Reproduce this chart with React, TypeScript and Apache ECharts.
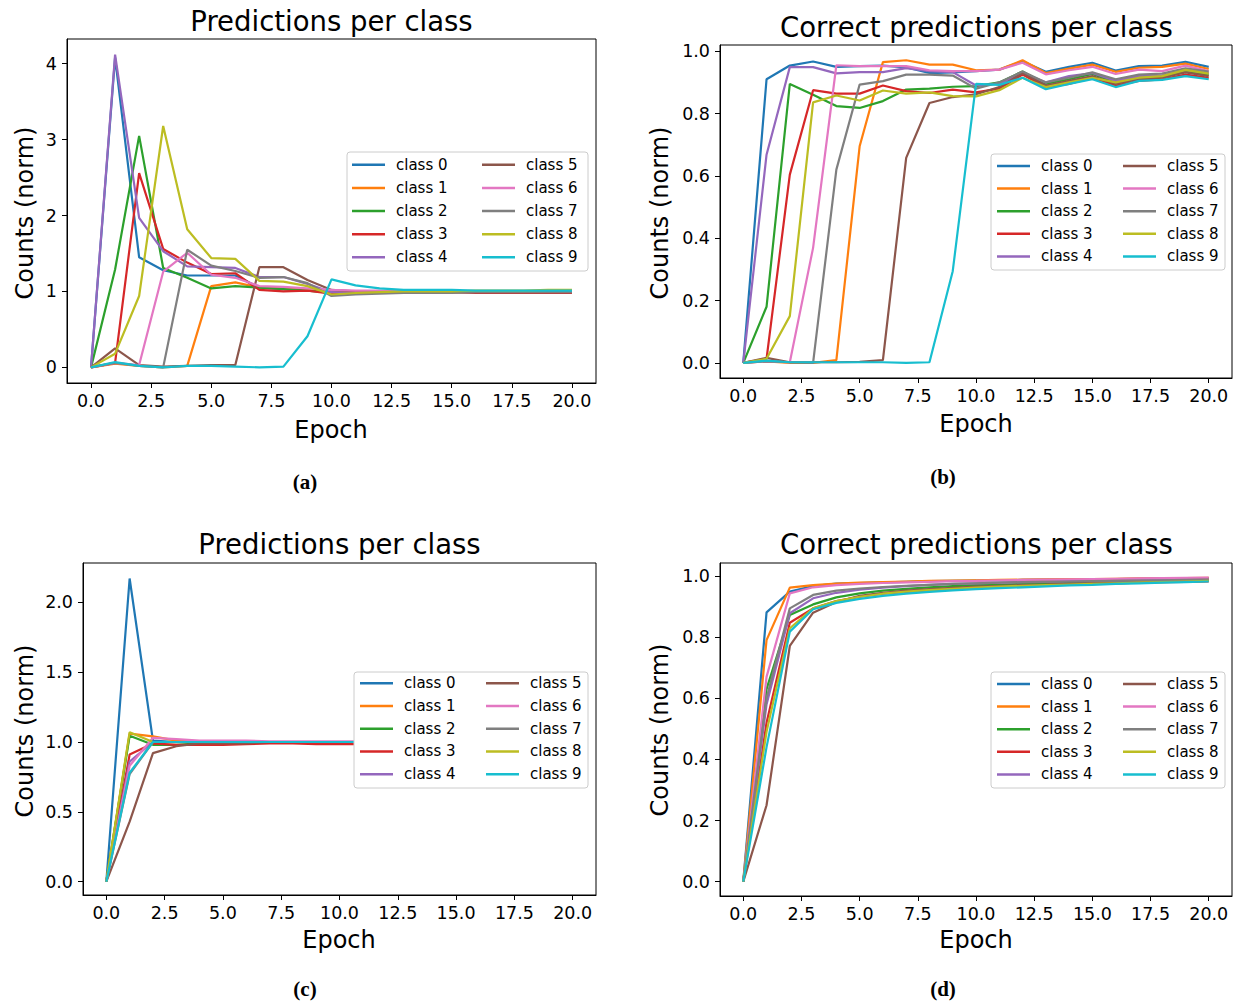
import React, { useEffect, useRef } from "react";
import * as echarts from "echarts";

// ---------------- data ----------------
const EPOCHS = [0, 1, 2, 3, 4, 5, 6, 7, 8, 9, 10, 11, 12, 13, 14, 15, 16, 17, 18, 19, 20];
const CLASS_NAMES = ["class 0", "class 1", "class 2", "class 3", "class 4", "class 5", "class 6", "class 7", "class 8", "class 9"];
const COLORS = ["#1f77b4", "#ff7f0e", "#2ca02c", "#d62728", "#9467bd", "#8c564b", "#e377c2", "#7f7f7f", "#bcbd22", "#17becf"];

const X_TICKS = [0, 2.5, 5, 7.5, 10, 12.5, 15, 17.5, 20];
const Y_TICKS_A = [0, 1, 2, 3, 4];
const Y_TICKS_B = [0, 0.2, 0.4, 0.6, 0.8, 1.0];
const Y_TICKS_C = [0, 0.5, 1.0, 1.5, 2.0];
const Y_TICKS_D = [0, 0.2, 0.4, 0.6, 0.8, 1.0];

// (a) Predictions per class
const A0 = [0, 4.08, 1.45, 1.28, 1.21, 1.21, 1.21, 1.05, 1.03, 1.01, 1.0, 1.0, 1.0, 1.01, 1.0, 1.0, 1.0, 1.0, 1.0, 1.0, 1.0];
const A1 = [0, 0.05, 0.02, 0.0, 0.02, 1.07, 1.12, 1.05, 1.04, 1.02, 0.99, 0.99, 1.0, 1.0, 1.0, 1.0, 1.0, 1.0, 1.0, 1.0, 1.0];
const A2 = [0, 1.29, 3.05, 1.31, 1.18, 1.04, 1.07, 1.05, 1.03, 1.01, 0.98, 0.99, 0.99, 1.0, 1.0, 1.0, 1.0, 1.0, 1.0, 1.0, 1.01];
const A3 = [0, 0.06, 2.56, 1.56, 1.38, 1.23, 1.24, 1.02, 1.0, 1.01, 0.97, 0.98, 0.99, 0.99, 0.99, 0.99, 0.98, 0.98, 0.98, 0.98, 0.98];
const A4 = [0, 4.12, 1.97, 1.53, 1.33, 1.32, 1.31, 1.19, 1.19, 1.1, 0.99, 0.99, 1.0, 1.0, 1.0, 1.0, 1.0, 1.0, 1.0, 1.0, 1.0];
const A5 = [0, 0.25, 0.03, 0.01, 0.02, 0.03, 0.03, 1.32, 1.32, 1.15, 1.02, 1.0, 1.0, 1.0, 0.99, 0.99, 0.99, 0.99, 0.99, 0.99, 0.99];
const A6 = [0, 0.06, 0.03, 1.26, 1.51, 1.22, 1.18, 1.07, 1.06, 1.04, 1.02, 1.01, 1.01, 1.0, 1.0, 1.0, 1.0, 1.0, 1.0, 1.0, 1.0];
const A7 = [0, 0.06, 0.02, 0.0, 1.55, 1.34, 1.27, 1.18, 1.19, 1.11, 0.94, 0.96, 0.97, 0.98, 0.98, 0.98, 0.99, 0.99, 0.99, 0.99, 0.99];
const A8 = [0, 0.18, 0.94, 3.18, 1.82, 1.44, 1.43, 1.14, 1.13, 1.07, 0.96, 0.98, 0.99, 1.0, 1.0, 1.0, 1.01, 1.01, 1.01, 1.02, 1.02];
const A9 = [0, 0.07, 0.02, 0.0, 0.02, 0.02, 0.01, 0.0, 0.01, 0.41, 1.16, 1.08, 1.04, 1.02, 1.02, 1.02, 1.01, 1.01, 1.01, 1.01, 1.01];

// (b) Correct predictions per class
const B0 = [0, 0.91, 0.954, 0.967, 0.95, 0.952, 0.954, 0.948, 0.93, 0.932, 0.936, 0.941, 0.968, 0.934, 0.95, 0.963, 0.938, 0.952, 0.954, 0.966, 0.95];
const B1 = [0, 0.005, 0.0, 0.0, 0.009, 0.695, 0.965, 0.971, 0.957, 0.957, 0.939, 0.941, 0.971, 0.93, 0.944, 0.957, 0.934, 0.947, 0.95, 0.96, 0.943];
const B2 = [0, 0.18, 0.895, 0.86, 0.824, 0.818, 0.84, 0.877, 0.88, 0.886, 0.888, 0.9, 0.935, 0.895, 0.91, 0.927, 0.9, 0.915, 0.918, 0.935, 0.925];
const B3 = [0, 0.013, 0.604, 0.875, 0.864, 0.864, 0.89, 0.872, 0.866, 0.877, 0.868, 0.88, 0.925, 0.885, 0.895, 0.915, 0.89, 0.905, 0.91, 0.925, 0.915];
const B4 = [0, 0.668, 0.949, 0.949, 0.929, 0.933, 0.933, 0.946, 0.936, 0.933, 0.89, 0.895, 0.93, 0.9, 0.92, 0.93, 0.905, 0.92, 0.922, 0.94, 0.93];
const B5 = [0, 0.016, 0.002, 0.002, 0.002, 0.003, 0.009, 0.658, 0.834, 0.853, 0.862, 0.885, 0.93, 0.89, 0.905, 0.92, 0.895, 0.91, 0.915, 0.932, 0.92];
const B6 = [0, 0.005, 0.002, 0.369, 0.955, 0.952, 0.952, 0.952, 0.939, 0.936, 0.936, 0.941, 0.963, 0.926, 0.939, 0.95, 0.927, 0.941, 0.936, 0.954, 0.936];
const B7 = [0, 0.005, 0.002, 0.0, 0.62, 0.893, 0.904, 0.925, 0.925, 0.922, 0.88, 0.9, 0.935, 0.9, 0.915, 0.932, 0.91, 0.925, 0.928, 0.945, 0.935];
const B8 = [0, 0.013, 0.15, 0.836, 0.858, 0.842, 0.874, 0.864, 0.868, 0.856, 0.855, 0.875, 0.915, 0.885, 0.9, 0.915, 0.9, 0.915, 0.92, 0.94, 0.928];
const B9 = [0, 0.007, 0.002, 0.002, 0.002, 0.002, 0.002, 0.0, 0.002, 0.294, 0.895, 0.892, 0.915, 0.878, 0.895, 0.91, 0.885, 0.905, 0.908, 0.92, 0.91];

// (c) Predictions per class
const C0 = [0, 2.17, 1.01, 1.0, 1.0, 1.0, 1.0, 1.0, 1.0, 1.0, 1.0, 1.0, 1.0, 1.0, 1.0, 1.0, 1.0, 1.0, 1.0, 1.0, 1.0];
const C1 = [0, 1.06, 1.04, 1.01, 1.0, 1.0, 1.0, 1.0, 1.0, 1.0, 1.0, 1.0, 1.0, 1.0, 1.0, 1.0, 1.0, 1.0, 1.0, 1.0, 1.0];
const C2 = [0, 1.045, 0.98, 0.98, 0.99, 0.99, 1.0, 1.0, 1.0, 1.0, 1.0, 1.0, 1.0, 1.0, 1.0, 1.0, 1.0, 1.0, 1.0, 1.0, 1.0];
const C3 = [0, 0.91, 0.99, 0.98, 0.98, 0.98, 0.985, 0.99, 0.99, 0.985, 0.985, 0.985, 0.985, 0.985, 0.985, 0.985, 0.985, 0.985, 0.985, 0.985, 0.985];
const C4 = [0, 0.86, 1.0, 1.0, 1.0, 1.0, 1.0, 1.0, 1.0, 1.0, 1.0, 1.0, 1.0, 1.0, 1.0, 1.0, 1.0, 1.0, 1.0, 1.0, 1.0];
const C5 = [0, 0.43, 0.92, 0.97, 0.99, 0.99, 0.99, 1.0, 1.0, 1.0, 1.0, 1.0, 1.0, 1.0, 1.0, 1.0, 1.0, 1.0, 1.0, 1.0, 1.0];
const C6 = [0, 0.83, 1.03, 1.02, 1.01, 1.01, 1.01, 1.005, 1.005, 1.005, 1.005, 1.005, 1.005, 1.005, 1.005, 1.005, 1.005, 1.005, 1.005, 1.005, 1.005];
const C7 = [0, 0.77, 1.0, 1.0, 1.0, 1.0, 1.0, 1.0, 1.0, 1.0, 1.0, 1.0, 1.0, 1.0, 1.0, 1.0, 1.0, 1.0, 1.0, 1.0, 1.0];
const C8 = [0, 1.07, 1.0, 1.0, 1.0, 1.0, 1.0, 1.0, 1.0, 1.0, 1.0, 1.0, 1.0, 1.0, 1.0, 1.0, 1.0, 1.0, 1.0, 1.0, 1.0];
const C9 = [0, 0.78, 1.0, 1.0, 1.0, 1.0, 1.0, 1.0, 1.0, 1.0, 1.0, 1.0, 1.0, 1.0, 1.0, 1.0, 1.0, 1.0, 1.0, 1.0, 1.0];

// (d) Correct predictions per class
const D0 = [0, 0.881, 0.949, 0.967, 0.975, 0.977, 0.979, 0.981, 0.983, 0.984, 0.985, 0.986, 0.987, 0.988, 0.989, 0.99, 0.99, 0.991, 0.992, 0.992, 0.993];
const D1 = [0, 0.79, 0.962, 0.97, 0.975, 0.978, 0.98, 0.982, 0.984, 0.985, 0.986, 0.987, 0.988, 0.989, 0.99, 0.99, 0.991, 0.992, 0.992, 0.993, 0.994];
const D2 = [0, 0.63, 0.872, 0.907, 0.93, 0.943, 0.952, 0.958, 0.963, 0.967, 0.97, 0.972, 0.974, 0.976, 0.978, 0.98, 0.981, 0.982, 0.983, 0.984, 0.985];
const D3 = [0, 0.52, 0.847, 0.894, 0.918, 0.932, 0.942, 0.948, 0.953, 0.958, 0.962, 0.965, 0.968, 0.97, 0.972, 0.974, 0.976, 0.978, 0.98, 0.981, 0.982];
const D4 = [0, 0.58, 0.878, 0.927, 0.945, 0.955, 0.962, 0.967, 0.971, 0.974, 0.976, 0.978, 0.98, 0.981, 0.983, 0.984, 0.985, 0.986, 0.987, 0.988, 0.989];
const D5 = [0, 0.25, 0.771, 0.88, 0.915, 0.935, 0.945, 0.952, 0.957, 0.961, 0.965, 0.968, 0.97, 0.972, 0.975, 0.977, 0.979, 0.98, 0.982, 0.983, 0.984];
const D6 = [0, 0.67, 0.943, 0.963, 0.97, 0.974, 0.977, 0.979, 0.981, 0.983, 0.984, 0.986, 0.987, 0.988, 0.989, 0.99, 0.991, 0.992, 0.993, 0.994, 0.995];
const D7 = [0, 0.6, 0.894, 0.938, 0.952, 0.959, 0.964, 0.968, 0.971, 0.974, 0.976, 0.978, 0.98, 0.981, 0.982, 0.983, 0.984, 0.985, 0.986, 0.987, 0.988];
const D8 = [0, 0.49, 0.829, 0.894, 0.918, 0.932, 0.942, 0.949, 0.954, 0.958, 0.962, 0.965, 0.968, 0.97, 0.972, 0.974, 0.976, 0.978, 0.98, 0.982, 0.984];
const D9 = [0, 0.44, 0.818, 0.891, 0.912, 0.925, 0.935, 0.942, 0.948, 0.953, 0.957, 0.96, 0.963, 0.966, 0.969, 0.971, 0.974, 0.976, 0.978, 0.98, 0.982];

const PANEL_A = [A0, A1, A2, A3, A4, A5, A6, A7, A8, A9];
const PANEL_B = [B0, B1, B2, B3, B4, B5, B6, B7, B8, B9];
const PANEL_C = [C0, C1, C2, C3, C4, C5, C6, C7, C8, C9];
const PANEL_D = [D0, D1, D2, D3, D4, D5, D6, D7, D8, D9];

const TITLES = ["Predictions per class", "Correct predictions per class", "Predictions per class", "Correct predictions per class"];
const CAPTIONS = ["(a)", "(b)", "(c)", "(d)"];
const X_NAME = "Epoch";
const Y_NAME = "Counts (norm)";

// ---------------- layout ----------------
const FONT = "'DejaVu Sans', 'Noto Sans', sans-serif";

const fmt1 = (v: number) => v.toFixed(1);
const fmt0 = (v: number) => String(Math.round(v));

const PANELS = [
  {
    data: PANEL_A, yTicks: Y_TICKS_A, yMin: -0.206, yMax: 4.326, yFmt: fmt0,
    grid: { left: 67, top: 39, width: 529, height: 344 },
    titleXY: [331.5, 21], epochXY: [331, 429.5], countsXY: [24.5, 213], captionXY: [305, 482],
    box: [347, 152, 241, 119], col1: 352, col2: 482, legTop: 153.3, rowH: 23.1,
  },
  {
    data: PANEL_B, yTicks: Y_TICKS_B, yMin: -0.0486, yMax: 1.02, yFmt: fmt1,
    grid: { left: 720, top: 45, width: 512, height: 333 },
    titleXY: [976.5, 26.5], epochXY: [976, 424], countsXY: [660, 213], captionXY: [943, 477],
    box: [991, 154, 234, 116], col1: 997, col2: 1123, legTop: 154.7, rowH: 22.6,
  },
  {
    data: PANEL_C, yTicks: Y_TICKS_C, yMin: -0.095, yMax: 2.281, yFmt: fmt1,
    grid: { left: 83, top: 563, width: 513, height: 332 },
    titleXY: [339.5, 544], epochXY: [339, 940], countsXY: [25, 731], captionXY: [305, 989],
    box: [354, 672, 234, 116], col1: 360, col2: 486, legTop: 672, rowH: 22.7,
  },
  {
    data: PANEL_D, yTicks: Y_TICKS_D, yMin: -0.047, yMax: 1.0425, yFmt: fmt1,
    grid: { left: 720, top: 563, width: 512, height: 333 },
    titleXY: [976.5, 544], epochXY: [976, 940], countsXY: [660, 730], captionXY: [943, 989],
    box: [991, 672, 234, 116], col1: 997, col2: 1123, legTop: 672.7, rowH: 22.6,
  },
];

function textEl(text: string, x: number, y: number, size: number, opts: any = {}) {
  return {
    type: "text",
    x,
    y,
    rotation: opts.rotation || 0,
    z: 10,
    silent: true,
    style: {
      text,
      fill: "#000",
      font: `${opts.weight || "normal"} ${size}px ${opts.family || FONT}`,
      fontSize: size,
      fontFamily: opts.family || FONT,
      fontWeight: opts.weight || "normal",
      align: "center",
      verticalAlign: "middle",
      textAlign: "center",
      textVerticalAlign: "middle",
    },
  };
}

function buildOption() {
  const grid: any[] = [];
  const xAxis: any[] = [];
  const yAxis: any[] = [];
  const series: any[] = [];
  const legend: any[] = [];
  const graphic: any[] = [];

  PANELS.forEach((p, pi) => {
    grid.push({
      ...p.grid,
      show: true,
      borderColor: "#000",
      borderWidth: 1,
      backgroundColor: "transparent",
      containLabel: false,
      outerBoundsMode: "none",
    });
    xAxis.push({
      type: "value",
      gridIndex: pi,
      min: -1,
      max: 21,
      axisLine: { show: true, onZero: false, lineStyle: { color: "#000", width: 1 } },
      axisTick: { show: true, length: 5, lineStyle: { color: "#000", width: 1 }, customValues: X_TICKS },
      axisLabel: {
        customValues: X_TICKS,
        formatter: (v: number) => fmt1(v),
        fontSize: 17.5,
        fontFamily: FONT,
        color: "#000",
        margin: 9,
      },
      splitLine: { show: false },
    });
    yAxis.push({
      type: "value",
      gridIndex: pi,
      min: p.yMin,
      max: p.yMax,
      axisLine: { show: true, onZero: false, lineStyle: { color: "#000", width: 1 } },
      axisTick: { show: true, length: 5, lineStyle: { color: "#000", width: 1 }, customValues: p.yTicks },
      axisLabel: {
        customValues: p.yTicks,
        formatter: (v: number) => p.yFmt(v),
        fontSize: 17.5,
        fontFamily: FONT,
        color: "#000",
        margin: 10,
      },
      splitLine: { show: false },
    });
    p.data.forEach((vals, ci) => {
      series.push({
        type: "line",
        name: CLASS_NAMES[ci],
        xAxisIndex: pi,
        yAxisIndex: pi,
        data: EPOCHS.map((e, i) => [e, vals[i]]),
        symbol: "none",
        showSymbol: false,
        silent: true,
        z: 2,
        itemStyle: { color: COLORS[ci] },
        lineStyle: { color: COLORS[ci], width: 2.2 },
      });
    });
    [p.col1, p.col2].forEach((lx, li) => {
      legend.push({
        orient: "vertical",
        left: lx,
        top: p.legTop,
        padding: 0,
        itemGap: 0,
        itemWidth: 33,
        itemHeight: 2.5,
        icon: "rect",
        selectedMode: false,
        z: 6,
        itemStyle: { borderWidth: 0 },
        data: CLASS_NAMES.slice(li * 5, li * 5 + 5),
        textStyle: {
          fontSize: 15,
          fontFamily: FONT,
          color: "#000",
          lineHeight: p.rowH,
          padding: [0, 0, 0, 6],
        },
      });
    });
    graphic.push({
      type: "rect",
      z: 5,
      silent: true,
      shape: { x: p.box[0], y: p.box[1], width: p.box[2], height: p.box[3], r: 3 },
      style: { fill: "#ffffff", stroke: "#cccccc", lineWidth: 1 },
    });
    graphic.push(textEl(TITLES[pi], p.titleXY[0], p.titleXY[1], 27.5));
    graphic.push(textEl(X_NAME, p.epochXY[0], p.epochXY[1], 24));
    graphic.push(textEl(Y_NAME, p.countsXY[0], p.countsXY[1], 24, { rotation: Math.PI / 2 }));
    graphic.push(
      textEl(CAPTIONS[pi], p.captionXY[0], p.captionXY[1], 21, {
        weight: "bold",
        family: "'Liberation Serif', 'DejaVu Serif', serif",
      })
    );
  });

  return {
    animation: false,
    backgroundColor: "#ffffff",
    grid,
    xAxis,
    yAxis,
    series,
    legend,
    graphic: { elements: graphic },
  };
}

export default function App() {
  const ref = useRef<HTMLDivElement>(null);
  useEffect(() => {
    if (!ref.current) return;
    const chart = echarts.init(ref.current, undefined, { renderer: "svg" });
    chart.setOption(buildOption() as any);
    return () => chart.dispose();
  }, []);
  return (
    <div
      ref={ref}
      style={{ position: "fixed", left: 0, top: 0, width: 1238, height: 1003, background: "#fff" }}
    />
  );
}
